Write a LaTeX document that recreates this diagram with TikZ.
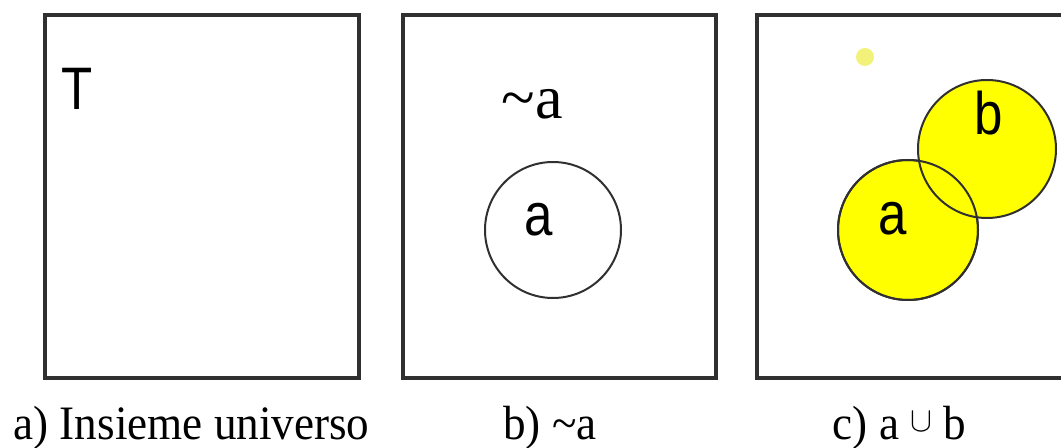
\documentclass[tikz,border=0pt]{standalone}
\usepackage{fontspec}
\setmainfont{Liberation Serif}
\setsansfont{Liberation Sans}
\usetikzlibrary{positioning}
\definecolor{vennline}{HTML}{303030}
\definecolor{vennyellow}{HTML}{FFFF00}
\definecolor{vennspot}{HTML}{F2F27A}

\newcommand{\narrowtext}[2]{\scalebox{#1}[1]{#2}}

\begin{document}
\begin{tikzpicture}[x=0.5pt, y=-0.5pt,
  frame/.style={draw=vennline, line width=1.8pt},
  setname/.style={font=\sffamily\fontsize{30}{30}\selectfont, inner sep=0pt, anchor=base},
  caption/.style={font=\fontsize{24}{26}\selectfont, inner sep=0pt, anchor=base},
  setcirc/.style={circle, draw=vennline, line width=1pt, inner sep=0pt}]
  \useasboundingbox (0,0) rectangle (1061,448);
  \clip (0,0) rectangle (1061,448);

  % a) universe
  \draw[frame] (45,15) rectangle (359,378);
  \node[setname] (tu) at (77,110) {\narrowtext{0.85}{T}};
  \node[caption] (capa) at (191.5,440) {\narrowtext{0.94}{a) Insieme universo}};

  % b) complement
  \draw[frame] (403,15) rectangle (716,378);
  \node[font=\fontsize{31}{31}\selectfont, inner sep=0pt, anchor=base] (nota) at (532,119) {\textasciitilde a};
  \node[setcirc, minimum size=68pt] (cirb) at (553,230) {};
  \node[setname] (la) at (539,236) {\narrowtext{0.85}{a}};
  \node[caption] (capb) at (550,440) {\narrowtext{0.94}{b) \textasciitilde a}};

  % c) union
  \draw[frame] (757,15) rectangle (1080,378);
  \node[circle, fill=vennspot, minimum size=9pt, inner sep=0pt] (spot) at (865,57) {};
  \node[setcirc, fill=vennyellow, minimum size=70pt] (ca) at (908,230) {};
  \node[setcirc, fill=vennyellow, minimum size=69pt] (cb) at (987,149) {};
  \node[setcirc, minimum size=70pt] (caedge) at (ca) {};
  \node[setname] (lca) at (893,235) {\narrowtext{0.85}{a}};
  \node[setname] (lcb) at (989,135) {\narrowtext{0.85}{b}};
  \node[caption] (capc) at (899.5,440) {\narrowtext{0.94}{c) a \raisebox{4pt}{\scalebox{0.7}{$\cup$}} b}};
\end{tikzpicture}
\end{document}
